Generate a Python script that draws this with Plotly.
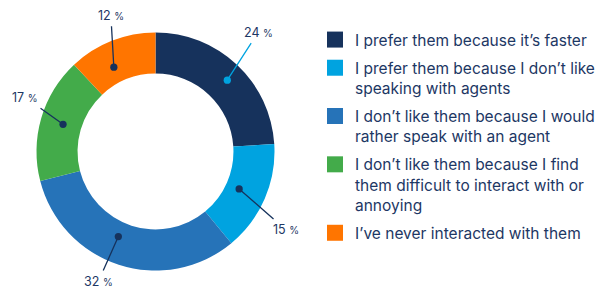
import math
import plotly.graph_objects as go

categories = [
    "I prefer them because it’s faster",
    "I prefer them because I don’t like<br>speaking with agents",
    "I don’t like them because I would<br>rather speak with an agent",
    "I don’t like them because I find<br>them difficult to interact with or<br>annoying",
    "I’ve never interacted with them",
]
values = [24, 15, 32, 17, 12]
colors = ["#16325c", "#00a3e0", "#2673b8", "#43ab4a", "#ff7500"]
leader_colors = ["#00a3e0", "#16325c", "#16325c", "#16325c", "#16325c"]

W, H = 611, 289
TEXT = "#1d3764"
FONT = "Inter"

dom_x = [36.5 / W, 274.5 / W]
dom_y = [18.5 / H, 256.5 / H]
hole = 0.655

fig = go.Figure()
fig.add_trace(go.Pie(
    values=values, labels=categories, marker=dict(colors=colors, line=dict(width=0)),
    hole=hole, sort=False, direction="clockwise", rotation=0,
    textinfo="none", hoverinfo="label+percent", showlegend=False,
    domain=dict(x=dom_x, y=dom_y),
))

# legend entries via invisible scatter traces (square markers)
for i, (c, col) in enumerate(zip(categories, colors)):
    fig.add_trace(go.Scatter(
        x=[None], y=[None], mode="markers", name=c, legendgroup=str(i),
        marker=dict(symbol="square", size=16, color=col), showlegend=True,
    ))

# leader-line labels: dot on the ring near the slice's mid-angle, label offset
cx = (dom_x[0] + dom_x[1]) / 2
cy = (dom_y[0] + dom_y[1]) / 2
R = (dom_y[1] - dom_y[0]) * H / 2
dot_r = [0.85, 0.77, 0.78, 0.81, 0.79]       # dot radius as share of outer radius
dot_turn = [2, 0.7, 5.6, 0.2, -4.7]          # small angular nudge of the dot (deg)
label_off = [(31, -48), (47, 41), (-20, 45), (-38, -27), (-3, -52)]  # px
total = sum(values)
cum = 0
for i, v in enumerate(values):
    mid = (cum + v / 2) / total * 2 * math.pi + math.radians(dot_turn[i])
    cum += v
    px = R * dot_r[i] * math.sin(mid)
    py = R * dot_r[i] * math.cos(mid)
    fig.add_annotation(
        x=cx + px / W, y=cy + py / H, xref="paper", yref="paper",
        text=f"{v} <span style='font-size:10px'>%</span>",
        showarrow=True, arrowhead=6, arrowsize=1.4, arrowwidth=1.3,
        arrowcolor=leader_colors[i],
        ax=label_off[i][0], ay=label_off[i][1],
        borderpad=3, font=dict(family=FONT, size=12.5, color=TEXT),
    )

fig.update_layout(
    width=W, height=H, margin=dict(l=0, r=0, t=0, b=0),
    paper_bgcolor="white", plot_bgcolor="white",
    xaxis=dict(visible=False), yaxis=dict(visible=False),
    legend=dict(
        x=315 / W, y=1 - 23 / H, xanchor="left", yanchor="top",
        font=dict(family=FONT, size=15.5, color=TEXT),
        tracegroupgap=5, valign="top", traceorder="grouped",
        bgcolor="rgba(0,0,0,0)",
    ),
)
fig.write_html("out.html", config={"displayModeBar": False},
               post_script="document.body.style.margin='0';")
